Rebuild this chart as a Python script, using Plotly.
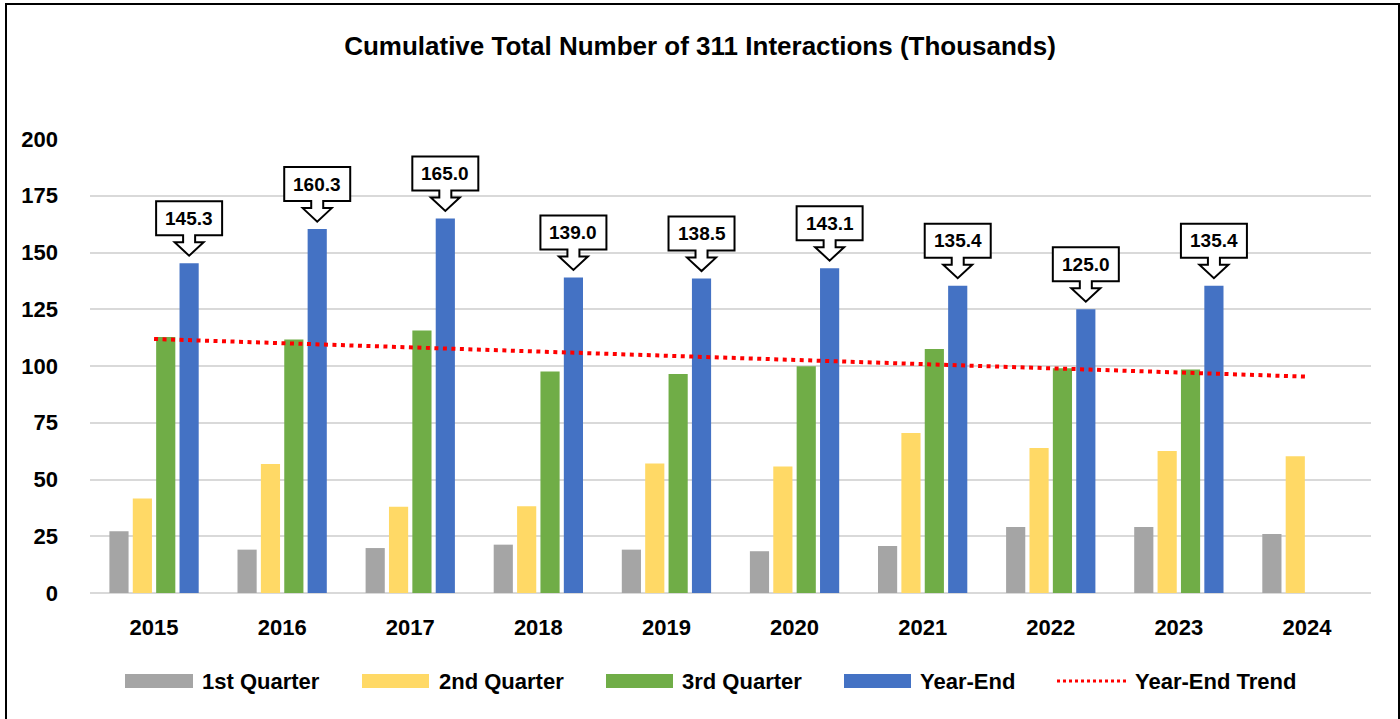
import plotly.graph_objects as go

# ---------------- data ----------------
years = ["2015", "2016", "2017", "2018", "2019", "2020", "2021", "2022", "2023", "2024"]
q1 = [27.2, 19.1, 19.8, 21.3, 19.1, 18.4, 20.7, 29.1, 29.1, 26.0]
q2 = [41.6, 56.8, 38.0, 38.2, 57.0, 55.7, 70.5, 63.9, 62.6, 60.2]
q3 = [112.8, 111.7, 115.6, 97.6, 96.5, 99.9, 107.5, 99.0, 98.5, None]
year_end = [145.3, 160.3, 165.0, 139.0, 138.5, 143.1, 135.4, 125.0, 135.4, None]
trend_years = ["2015", "2024"]
trend_values = [111.9, 95.3]
series_names = ["1st Quarter", "2nd Quarter", "3rd Quarter", "Year-End", "Year-End Trend"]
colors = ["#a5a5a5", "#ffd966", "#70ad47", "#4472c4", "#ff0000"]
title_text = "Cumulative Total Number of 311 Interactions (Thousands)"

# ---------------- geometry ----------------
W, H = 1400, 719
L, R, T, B = 90, 29, 139, 126
plot_w = W - L - R
plot_h = H - T - B
ymax = 200
px_per_unit = plot_h / ymax
cat_px = plot_w / len(years)
bargap, bargroupgap = 0.27, 0.18

FONT = "Liberation Sans, Arial, sans-serif"

def px2x(px):
    return (px - L) / plot_w

def px2y(py):
    return (H - B - py) / plot_h

fig = go.Figure()
for name, vals, col in zip(series_names[:4], [q1, q2, q3, year_end], colors[:4]):
    fig.add_trace(go.Bar(x=years, y=vals, name=name, marker=dict(color=col, line=dict(width=0)),
                         showlegend=False, hoverinfo="x+y+name"))

fig.add_trace(go.Scatter(x=trend_years, y=trend_values, mode="lines", name=series_names[4],
                         line=dict(color=colors[4], width=4, dash="4px,4.5px"), showlegend=False))

# ---------------- callouts ----------------
slot = (1 - bargap) / 4
ye_off = 1.5 * slot
shapes = []
annotations = []
box_hw, box_h = 33, 34          # px
stem_hw, head_hw = 6, 14.5      # px
gap_px, head_h, stem_h = 7.5, 13.5, 7  # px
for i, v in enumerate(year_end):
    if v is None:
        continue
    xc = i + ye_off
    dx = lambda p: p / cat_px
    dy = lambda p: p / px_per_unit
    tip = v + dy(gap_px)
    stem_b = tip + dy(head_h)
    box_b = stem_b + dy(stem_h)
    box_t = box_b + dy(box_h)
    pts = [
        (xc - dx(box_hw), box_t), (xc + dx(box_hw), box_t), (xc + dx(box_hw), box_b),
        (xc + dx(stem_hw), box_b), (xc + dx(stem_hw), stem_b), (xc + dx(head_hw), stem_b),
        (xc, tip), (xc - dx(head_hw), stem_b), (xc - dx(stem_hw), stem_b),
        (xc - dx(stem_hw), box_b), (xc - dx(box_hw), box_b),
    ]
    path = "M " + " L ".join(f"{x:.5f},{y:.4f}" for x, y in pts) + " Z"
    shapes.append(dict(type="path", path=path, xref="x", yref="y", fillcolor="white",
                       line=dict(color="black", width=2), layer="above"))
    annotations.append(dict(x=xc, y=(box_b + box_t) / 2, xref="x", yref="y", text=f"{v:.1f}",
                            showarrow=False, font=dict(family=FONT, size=19, color="black", weight="bold"),
                            xanchor="center", yanchor="middle"))

# ---------------- custom legend ----------------
leg_y = 681
swatches = [(125, 193), (362, 429), (606, 673), (844, 911), (1057, 1129)]
label_x = [200, 437, 680, 918, 1133]
for k, (name, col) in enumerate(zip(series_names, colors)):
    x0, x1 = swatches[k]
    if k < 4:
        shapes.append(dict(type="rect", xref="paper", yref="paper", x0=px2x(x0), x1=px2x(x1),
                           y0=px2y(leg_y + 7), y1=px2y(leg_y - 7), fillcolor=col, line=dict(width=0)))
    else:
        shapes.append(dict(type="line", xref="paper", yref="paper", x0=px2x(x0), x1=px2x(x1),
                           y0=px2y(leg_y), y1=px2y(leg_y), line=dict(color=col, width=3, dash="3px,3px")))
    annotations.append(dict(x=px2x(label_x[k]), y=px2y(leg_y), xref="paper", yref="paper", text=name,
                            showarrow=False, xanchor="left", yanchor="middle",
                            font=dict(family=FONT, size=22, color="black", weight="bold")))

# ---------------- border ----------------
shapes.append(dict(type="rect", xref="paper", yref="paper", x0=px2x(6), x1=px2x(1399),
                   y0=px2y(725), y1=px2y(4), line=dict(color="black", width=2), fillcolor="rgba(0,0,0,0)"))

fig.update_layout(
    width=W, height=H,
    margin=dict(l=L, r=R, t=T, b=B),
    paper_bgcolor="white", plot_bgcolor="white",
    barmode="group", bargap=bargap, bargroupgap=bargroupgap,
    title=dict(text=title_text, x=0.5, xref="container", xanchor="center",
               y=1 - 46 / H, yref="container", yanchor="middle",
               font=dict(family=FONT, size=26, color="black", weight="bold")),
    xaxis=dict(type="category", showgrid=False, zeroline=False, showline=False, ticks="",
               tickfont=dict(family=FONT, size=22, color="black", weight="bold"),
               ticklabelstandoff=19),
    yaxis=dict(range=[0, ymax], tickvals=list(range(0, 201, 25)), showgrid=True,
               gridcolor="#d9d9d9", gridwidth=2, zeroline=True, zerolinecolor="#d9d9d9",
               zerolinewidth=2, showline=False, ticks="",
               tickfont=dict(family=FONT, size=22, color="black", weight="bold"),
               ticklabelstandoff=31),
    shapes=shapes, annotations=annotations, showlegend=False,
)

fig.write_html("out.html", config={"displayModeBar": False},
               post_script="document.body.style.margin='0';document.body.style.overflow='hidden';")
